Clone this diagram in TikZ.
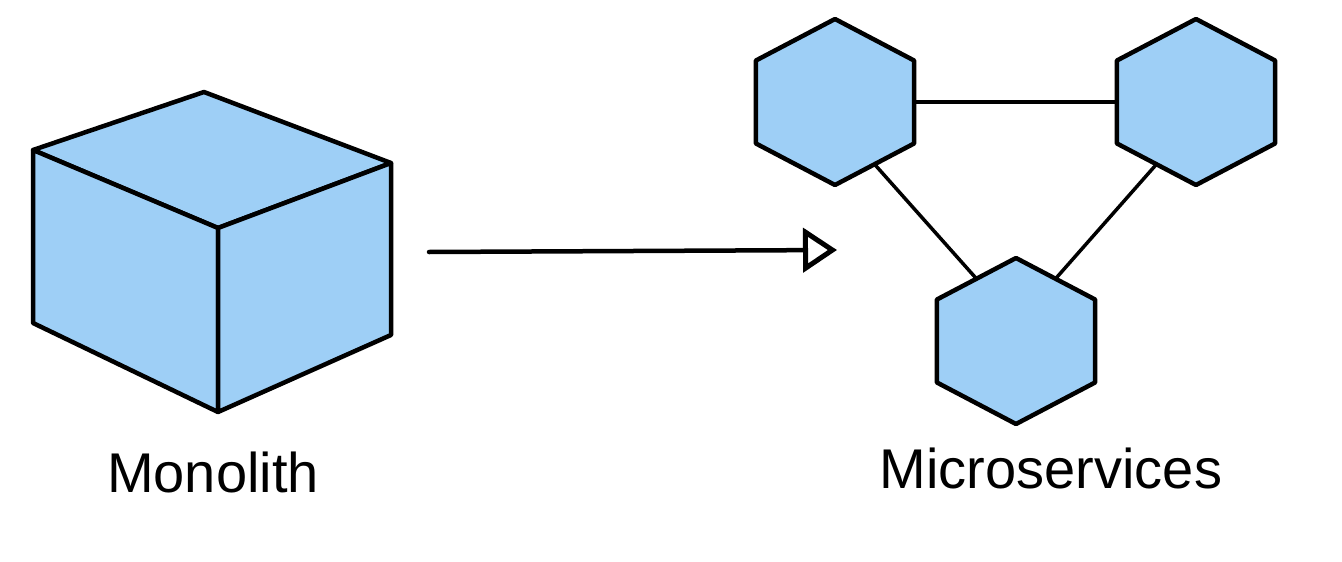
\documentclass[tikz,border=0pt]{standalone}
\usepackage{fontspec}
\setmainfont{Liberation Sans}
\usetikzlibrary{shapes.geometric,arrows.meta}
\definecolor{boxblue}{RGB}{158,207,246}

\begin{document}
\begin{tikzpicture}[x=1pt,y=-1pt,line join=round,
    hexa/.style={regular polygon, regular polygon sides=6, shape border rotate=30,
        minimum size=166pt, inner sep=0pt, outer sep=0pt, xscale=1.1,
        draw, line width=4.5pt, fill=boxblue},
    link/.style={line width=3.5pt},
    face/.style={draw, line width=4.5pt, fill=boxblue},
    caption/.style={anchor=base, font=\fontsize{56}{60}\selectfont}]
    \useasboundingbox (0,0) rectangle (1342,562);
    % monolith cube
    \coordinate (top) at (204,92);
    \coordinate (left) at (33,150);
    \coordinate (right) at (391,163);
    \coordinate (front) at (218,228);
    \coordinate (left bot) at (33,323);
    \coordinate (front bot) at (218,412);
    \coordinate (right bot) at (391,335);
    \filldraw[face] (top) -- (right) -- (front) -- (left) -- cycle;
    \filldraw[face] (left) -- (front) -- (front bot) -- (left bot) -- cycle;
    \filldraw[face] (front) -- (right) -- (right bot) -- (front bot) -- cycle;
    \node[caption] (mono) at (213,492) {Monolith};
    % arrow
    \coordinate (arr start) at (429,252);
    \coordinate (arr end) at (837,250);
    \draw[line width=4.5pt, line cap=round, -{Triangle[open,length=34pt,width=44pt,line width=5pt]}] (arr start) -- (arr end);
    % services
    \node[hexa] (svc1) at (835,102) {};
    \node[hexa] (svc2) at (1196,102) {};
    \node[hexa] (svc3) at (1016,341) {};
    \draw[link] (svc1.side 5) -- (svc2.side 2);
    \draw[link] (svc1.side 4) -- (svc3.side 1);
    \draw[link] (svc2.side 3) -- (svc3.side 6);
    \node[caption] (micro) at (1051,488) {Microservices};
\end{tikzpicture}
\end{document}
